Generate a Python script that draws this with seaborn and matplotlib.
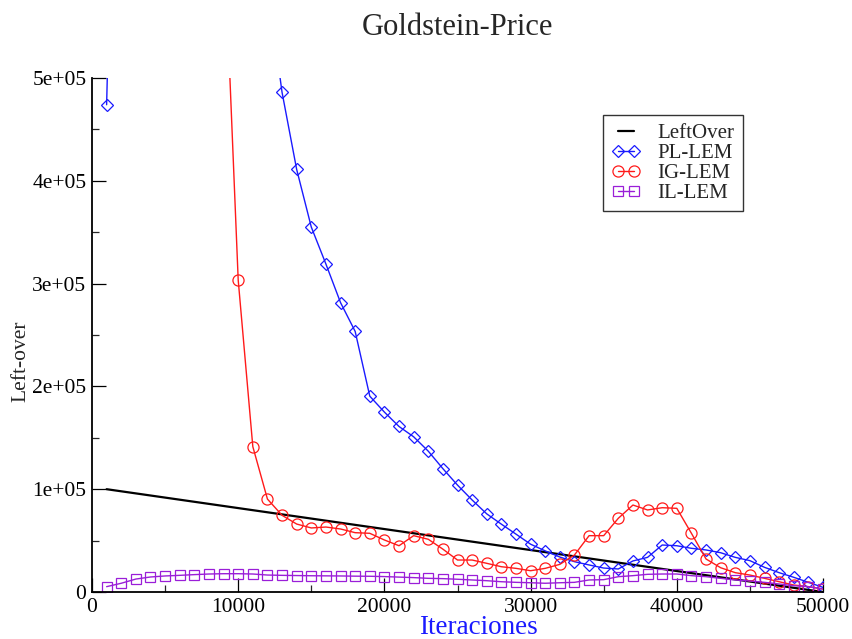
import matplotlib
matplotlib.use("Agg")
import matplotlib.pyplot as plt
from matplotlib.ticker import MultipleLocator
import numpy as np
import pandas as pd
import seaborn as sns

# Iteration checkpoints (every 1000 iterations)
iterations = list(range(1000, 50001, 1000))

# Reference left-over line (straight from 1e5 down to 0)
leftover_x = [1000, 50000]
leftover_y = [100000, 0]

pl_lem = [474000, 1050000, 980000, 930000, 880000, 840000, 800000, 760000, 720000, 680000,
          640000, 590000, 486000, 411000, 355000, 319000, 281500, 253500, 190500, 175000,
          161000, 151000, 137000, 120000, 104000, 89500, 76000, 66000, 56300, 46500,
          40000, 34000, 29500, 26300, 23300, 22400, 30200, 33700, 45700, 45000,
          42500, 40900, 38200, 33700, 30500, 24000, 18800, 14300, 9400, 4500]

ig_lem = [1900000, 1750000, 1600000, 1450000, 1300000, 1150000, 1000000, 850000, 650000, 303500,
          141400, 90400, 74600, 66100, 62300, 63200, 61300, 57700, 57100, 50600,
          45000, 54800, 51300, 41700, 31100, 31100, 27900, 24600, 23000, 20700,
          23000, 26900, 36000, 54800, 54800, 71700, 84600, 79800, 82000, 81400,
          57100, 32100, 23600, 18800, 16500, 13300, 10000, 6800, 5200, 2900]

il_lem = [5200, 8500, 12600, 14600, 15600, 16200, 16900, 17500, 17800, 17800,
          17500, 16500, 16200, 16000, 15800, 15700, 15600, 15400, 15300, 15000,
          14500, 14000, 13300, 13000, 12400, 11700, 11000, 10000, 9400, 9000,
          8500, 9000, 9400, 11700, 12000, 14900, 15900, 17200, 17500, 17500,
          15900, 14900, 13300, 11700, 10700, 9400, 7800, 6100, 5200, 2900]

x_ticks = [0, 10000, 20000, 30000, 40000, 50000]
x_ticklabels = ["0", "10000", "20000", "30000", "40000", "50000"]
y_ticks = [0, 100000, 200000, 300000, 400000, 500000]
y_ticklabels = ["0", "1e+05", "2e+05", "3e+05", "4e+05", "5e+05"]

sns.set_style("ticks")
plt.rcParams["font.family"] = ["Liberation Serif", "DejaVu Serif"]

fig = plt.figure(figsize=(8.52, 6.39), dpi=100)
ax = fig.add_axes([92 / 852, 47 / 639, (823 - 92) / 852, (592 - 78) / 639])

df_left = pd.DataFrame({"x": leftover_x, "y": leftover_y})
df = pd.DataFrame({"x": iterations, "pl": pl_lem, "ig": ig_lem, "il": il_lem})

sns.lineplot(data=df_left, x="x", y="y", ax=ax, color="black", lw=1.6,
             label="LeftOver", sort=False)
sns.lineplot(data=df, x="x", y="pl", ax=ax, color="#1a1aff", lw=1.0, marker="D",
             markersize=6.0, mfc="none", mec="#1a1aff", mew=0.9, label="PL-LEM", sort=False)
sns.lineplot(data=df, x="x", y="ig", ax=ax, color="#ff1a1a", lw=1.0, marker="o",
             markersize=8.0, mfc="none", mec="#ff1a1a", mew=0.9, label="IG-LEM", sort=False)
sns.lineplot(data=df, x="x", y="il", ax=ax, color="#9a1ed8", lw=1.0, marker="s",
             markersize=6.5, mfc="none", mec="#9a1ed8", mew=0.9, label="IL-LEM", sort=False)

ax.set_xlim(0, 50000)
ax.set_ylim(0, 500000)
ax.set_xticks(x_ticks)
ax.set_xticklabels(x_ticklabels)
ax.set_yticks(y_ticks)
ax.set_yticklabels(y_ticklabels)
ax.xaxis.set_minor_locator(MultipleLocator(5000))
ax.yaxis.set_minor_locator(MultipleLocator(50000))
ax.tick_params(which="major", direction="in", length=10, width=0.9, labelsize=15.5,
               colors="black", pad=4)
ax.tick_params(which="minor", direction="in", length=5, width=0.9)

for side in ("top", "right"):
    ax.spines[side].set_visible(False)
for side in ("left", "bottom"):
    ax.spines[side].set_linewidth(1.3)
    ax.spines[side].set_color("black")

ax.set_title("Goldstein-Price", fontsize=22, pad=31)
ax.set_xlabel("Iteraciones", fontsize=19.5, color="#1a1aff")
ax.xaxis.set_label_coords((478 - 92) / (823 - 92), -(634 - 592) / (592 - 78), transform=ax.transAxes)
ax.xaxis.label.set_va("baseline")
ax.set_ylabel("Left-over", fontsize=15.5)
ax.yaxis.set_label_coords(-(92 - 21) / (823 - 92), (592 - 361) / (592 - 78), transform=ax.transAxes)
ax.yaxis.label.set_va("center")

leg = ax.legend(loc="upper left", bbox_to_anchor=(603 / 852, 1 - 115 / 639),
                bbox_transform=fig.transFigure, borderaxespad=0, fontsize=15,
                frameon=True, fancybox=False, edgecolor="black", numpoints=2,
                handlelength=1.4, handletextpad=0.8, borderpad=0.4, labelspacing=0.02)
leg.get_frame().set_linewidth(1.0)

fig.savefig("out.png", dpi=100)
